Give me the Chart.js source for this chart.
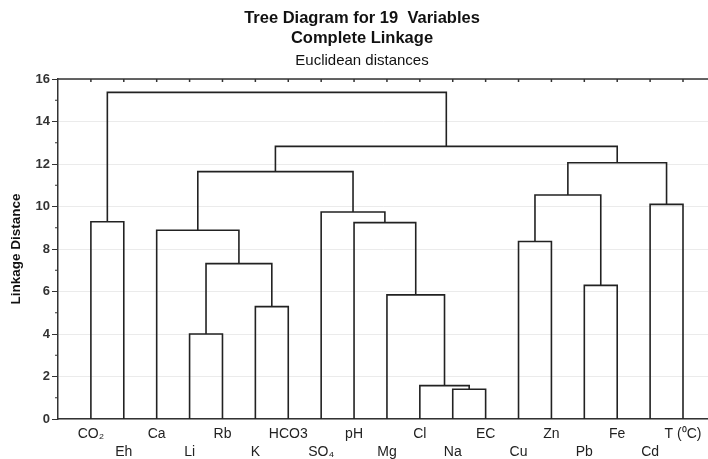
<!DOCTYPE html>
<html>
<head>
<meta charset="utf-8">
<script src="https://cdn.jsdelivr.net/npm/chart.js@4"></script>
<style>
  body { margin: 0; background: #fff; }
  canvas { display: block; }
</style>
</head>
<body>
<canvas id="tree" width="708" height="459" style="width:708px;height:459px"></canvas>
<script>
// leaves, left to right as they sit on the axis
const leafLabels = ['CO₂','Eh','Ca','Li','Rb','K','HCO3','SO₄','pH','Mg','Cl','Na','EC','Cu','Zn','Pb','Fe','Cd','T (⁰C)'];

// merges: node ids 0..18 are leaves, merge k creates node 19+k
const mergeLeft   = [11, 10, 3, 5,  9, 15, 21, 13, 2,  8, 0,  7, 17, 26, 27, 32, 33, 29];
const mergeRight  = [12, 19, 4, 6, 20, 16, 22, 14, 25, 23, 1, 28, 18, 24, 30, 31, 34, 35];
const mergeHeight = [1.40, 1.57, 4.00, 5.29, 5.84, 6.29, 7.31, 8.35, 8.88, 9.24, 9.28, 9.74, 10.10, 10.54, 11.64, 12.06, 12.83, 15.37];

const yTicks = [0, 2, 4, 6, 8, 10, 12, 14, 16];

const titleLines = ['Tree Diagram for 19  Variables', 'Complete Linkage', 'Euclidean distances'];

const FONT = "'Liberation Sans', Arial, sans-serif";
const INK = '#222';

// node positions from the merge table
const nodeX = leafLabels.map((_, i) => i);
const nodeY = leafLabels.map(() => 0);
const links = mergeLeft.map((a, k) => {
  const b = mergeRight[k], h = mergeHeight[k];
  nodeX.push((nodeX[a] + nodeX[b]) / 2);
  nodeY.push(h);
  return {
    data: [
      { x: nodeX[a], y: nodeY[a] }, { x: nodeX[a], y: h },
      { x: nodeX[b], y: h },        { x: nodeX[b], y: nodeY[b] },
    ],
    showLine: true, borderColor: INK, borderWidth: 1.6,
    pointRadius: 0, tension: 0, fill: false,
  };
});

// heading block (drawn slightly right of canvas centre, as in the source)
const headingPlugin = {
  id: 'heading',
  afterDraw(chart) {
    const { ctx } = chart;
    const cx = 362;
    ctx.save();
    ctx.fillStyle = '#111';
    ctx.textAlign = 'center';
    ctx.textBaseline = 'middle';
    ctx.font = `bold 16.5px ${FONT}`;
    ctx.fillText(titleLines[0], cx, 18);
    ctx.fillText(titleLines[1], cx, 38);
    ctx.font = `15px ${FONT}`;
    ctx.fillText(titleLines[2], cx, 60.5);
    ctx.restore();
  }
};

// top frame line with small inward ticks, plus minor ticks on the y axis
const framePlugin = {
  id: 'frame',
  afterDraw(chart) {
    const { ctx, chartArea: a, scales: { x, y } } = chart;
    ctx.save();
    ctx.strokeStyle = '#333';
    ctx.lineWidth = 1.5;
    ctx.beginPath();
    ctx.moveTo(a.left, a.top); ctx.lineTo(a.right, a.top);
    leafLabels.forEach((_, i) => {
      const px = x.getPixelForValue(i);
      ctx.moveTo(px, a.top); ctx.lineTo(px, a.top + 3);
    });
    ctx.stroke();
    ctx.lineWidth = 1;
    ctx.beginPath();
    yTicks.slice(1).forEach(v => {
      const py = y.getPixelForValue(v - 1);
      ctx.moveTo(a.left - 3, py); ctx.lineTo(a.left, py);
    });
    ctx.stroke();
    ctx.restore();
  }
};

new Chart(document.getElementById('tree'), {
  type: 'scatter',
  data: { datasets: links },
  plugins: [headingPlugin, framePlugin],
  options: {
    responsive: false, animation: false,
    layout: { padding: { left: 0, right: -2, top: 79, bottom: 0 } },
    plugins: {
      legend: { display: false },
      tooltip: { enabled: false },
    },
    scales: {
      x: {
        type: 'linear', min: -1, max: 18.76,
        afterBuildTicks: s => { s.ticks = leafLabels.map((_, i) => ({ value: i })); },
        afterFit: s => { s.height = 40; },
        ticks: {
          autoSkip: false, maxRotation: 0, padding: 6, color: INK,
          font: { family: FONT, size: 14, lineHeight: 1.29 },
          callback: v => (v % 2 === 0 ? [leafLabels[v], ''] : ['', leafLabels[v]]),
        },
        grid: { display: false, drawTicks: false },
        border: { display: true, color: '#333', width: 1.5 },
      },
      y: {
        min: 0, max: 16,
        afterBuildTicks: s => { s.ticks = yTicks.map(v => ({ value: v })); },
        afterFit: s => { s.width = 58; },
        ticks: {
          padding: 2, color: '#333',
          font: { family: FONT, size: 13, weight: 'bold' },
        },
        grid: { color: '#ebebeb', tickColor: '#333', tickLength: 6, lineWidth: 1 },
        border: { display: true, color: '#333', width: 1.5 },
        title: {
          display: true, text: 'Linkage Distance', color: '#111',
          font: { family: FONT, size: 13.5, weight: 'bold' },
          padding: { top: 8, bottom: 0 },
        },
      },
    },
  },
});
</script>
</body>
</html>
